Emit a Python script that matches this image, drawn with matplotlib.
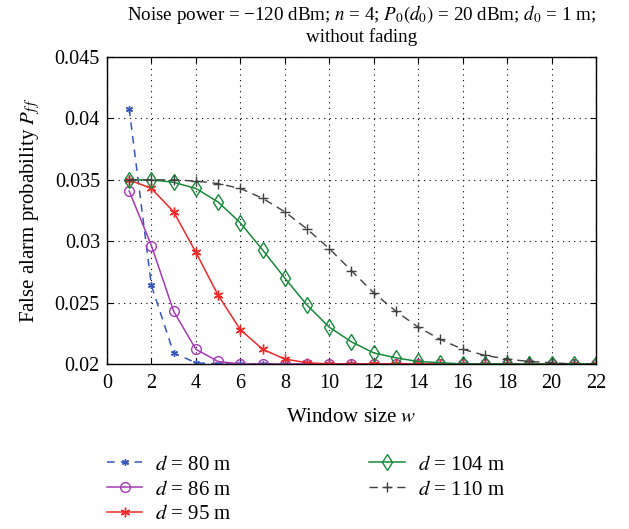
import matplotlib
matplotlib.use("Agg")
import matplotlib.pyplot as plt

plt.rcParams['font.family'] = ['Liberation Serif', 'DejaVu Serif']
plt.rcParams['mathtext.fontset'] = 'stix'

w = list(range(1, 23))
p80 = [0.0408, 0.0264, 0.0209, 0.0201] + [0.0200] * 18
p86 = [0.0341, 0.02965, 0.0243, 0.0212, 0.0202] + [0.0200] * 17
p95 = [0.0350, 0.0343, 0.0324, 0.0291, 0.0256, 0.0228, 0.0212, 0.0204, 0.0201] + [0.0200] * 13
p104 = [0.0350, 0.0350, 0.0348, 0.0343, 0.0332, 0.0315, 0.0293, 0.0270, 0.0248,
        0.0230, 0.0218, 0.0209, 0.0205, 0.0202, 0.0201] + [0.0200] * 7
p110 = [0.0350, 0.0350, 0.0350, 0.0349, 0.0347, 0.0343, 0.0335, 0.0324, 0.0310,
        0.0294, 0.0276, 0.0258, 0.0243, 0.0230, 0.0220, 0.0212, 0.0207, 0.0204,
        0.0202, 0.0201, 0.0200, 0.0200]
labels = [r'$d$ = 80 m', r'$d$ = 86 m', r'$d$ = 95 m', r'$d$ = 104 m', r'$d$ = 110 m']
xticks = list(range(0, 23, 2))
yticks = [0.02, 0.025, 0.03, 0.035, 0.04, 0.045]

fig = plt.figure(figsize=(6.29, 5.29), dpi=100)
ax = fig.add_axes([0.170, 0.312, 0.7775, 0.580])

ax.plot(w, p80, color='#3556b8', ls=(0, (5, 4)), lw=1.1, marker=(6, 2, 0), ms=5, mew=1.0, label=labels[0])
ax.plot(w, p86, color='#a53ab5', ls='-', lw=1.1, marker='o', ms=7, mfc='none', mew=1.0, label=labels[1])
ax.plot(w, p95, color='#f02828', ls='-', lw=1.1, marker=(6, 2, 0), ms=7, mew=1.0, label=labels[2])
ax.plot(w, p104, color='#168a3a', ls='-', lw=1.1, marker='d', ms=8, mfc='none', mew=1.0, label=labels[3])
ax.plot(w, p110, color='#404040', ls=(0, (6, 4)), lw=1.0, marker='+', ms=7, mew=1.0, label=labels[4])

ax.set_xlim(0, 22)
ax.set_ylim(0.02, 0.045)
ax.set_xticks(xticks)
ax.set_yticks(yticks)
ax.set_yticklabels(['0.02', '0.025', '0.03', '0.035', '0.04', '0.045'])
ax.tick_params(direction='in', top=True, right=True, labelsize=14.5, length=4)
ax.tick_params(axis='x', pad=7)
ax.tick_params(axis='y', pad=5)
ax.grid(True, ls=(0, (1, 4)), color='black', lw=0.8)
for s in ax.spines.values():
    s.set_linewidth(1.0)

ax.set_xlabel(r'Window size $w$', fontsize=15, labelpad=11)
ax.set_ylabel(r'False alarm probability $P_{f\,f}$', fontsize=15, labelpad=9)
ax.set_title('Noise power = \u2212120 dBm; $n$ = 4; $P_0(d_0)$ = 20 dBm; $d_0$ = 1 m;\nwithout fading',
             fontsize=13.7, linespacing=1.15, pad=11, x=0.521)

fig.legend(loc='upper left', bbox_to_anchor=(0.14, 0.175), ncol=2, frameon=False,
           fontsize=15, handlelength=1.7, handletextpad=0.62, columnspacing=6.6, labelspacing=0.25)

fig.savefig('out.png', dpi=100)
